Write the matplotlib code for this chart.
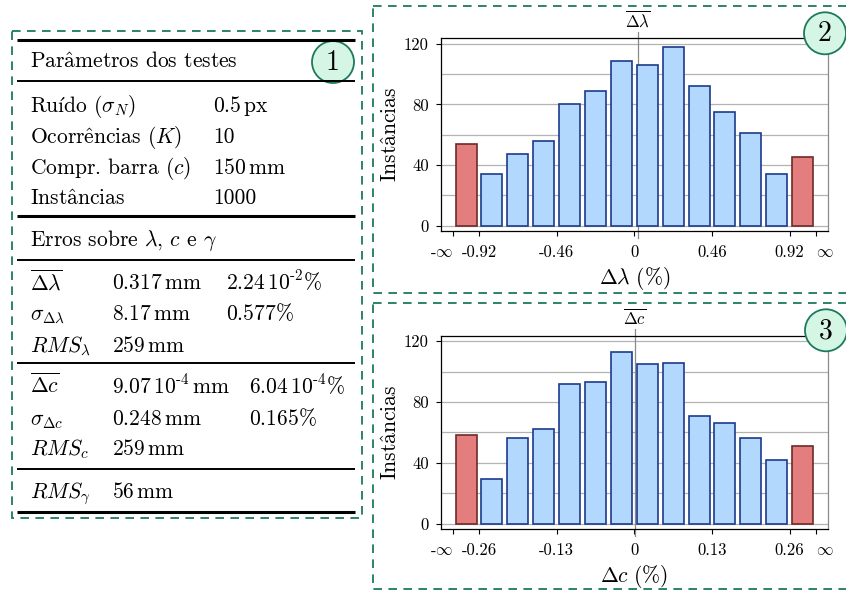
import numpy as np
import matplotlib
matplotlib.use('Agg')
import matplotlib.pyplot as plt
from matplotlib.patches import Rectangle, Circle

plt.rcParams['font.family'] = ['cmr10', 'DejaVu Serif']
plt.rcParams['mathtext.fontset'] = 'cm'
plt.rcParams['axes.unicode_minus'] = False
plt.rcParams['lines.scale_dashes'] = False

# histogram counts (1000 instancias), first/last bins are the -inf / +inf tails
counts_lambda = [54, 34, 47, 56, 80, 89, 109, 106, 118, 92, 75, 61, 34, 45]
counts_c = [58, 29, 56, 62, 92, 93, 113, 105, 106, 71, 66, 56, 42, 51]
ticks_lambda = [-0.92, -0.46, 0, 0.46, 0.92]
ticks_c = [-0.26, -0.13, 0, 0.13, 0.26]
mean_lambda = 2.24e-2
mean_c = 6.04e-4

# cmr10 (BaKoMa) has no latin-1 letters: build them TeX-style, accent glyph
# (^ = circumflex, \u00b6 = acute) kerned back over the letter,
# \u00b3 = dotless i.  hspace is in units of the italic 'm' (0.878 em).
A_HAT = 'a$\\hspace{-0.569}$^'
E_HAT = 'e$\\hspace{-0.538}$^$\\hspace{-0.032}$'
I_ACUTE = '\u00b3$\\hspace{-0.443}$\u00b6$\\hspace{-0.127}$'

# table contents
title_params = 'Par' + A_HAT + 'metros dos testes'
params_names = ['Ru' + I_ACUTE + 'do ($\\sigma_N$)', 'Ocorr' + E_HAT + 'ncias ($K$)',
                'Compr. barra ($c$)', 'Inst' + A_HAT + 'ncias']
params_values = [r'$0.5\,\mathrm{px}$', '10', r'$150\,\mathrm{mm}$', '1000']
title_errors = 'Erros sobre $\\lambda$, $c$ e $\\gamma$'
lam_names = [r'$\overline{\Delta\lambda}$', r'$\sigma_{\Delta\lambda}$', r'$RMS_\lambda$']
lam_mm = [r'$0.317\,\mathrm{mm}$', r'$8.17\,\mathrm{mm}$', r'$259\,\mathrm{mm}$']
lam_pct = [r'$2.24\,10^{\text{-}2}\%$', r'$0.577\%$', '']
c_names = [r'$\overline{\Delta c}$', r'$\sigma_{\Delta c}$', r'$RMS_c$']
c_mm = [r'$9.07\,10^{\text{-}4}\,\mathrm{mm}$', r'$0.248\,\mathrm{mm}$', r'$259\,\mathrm{mm}$']
c_pct = [r'$6.04\,10^{\text{-}4}\%$', r'$0.165\%$', '']
gamma_name = r'$RMS_\gamma$'
gamma_mm = r'$56\,\mathrm{mm}$'
ylabel = 'Inst' + A_HAT + 'ncias'

green = '#1c7a5c'
W, H = 846, 592
fig = plt.figure(figsize=(W / 100, H / 100), dpi=100)


def px_axes(left, top, right, bottom):
    return fig.add_axes([left / W, 1 - bottom / H, (right - left) / W, (bottom - top) / H])


def histogram(ax, counts, ticks, mean, xlabel, meanlabel):
    step = (ticks[-1] - ticks[0]) / 12  # twelve inner bins
    lefts = np.concatenate([[ticks[0] - step], ticks[0] + step * np.arange(13)])
    centers = lefts + step / 2
    fills = ['#b3d8fd'] * len(counts)
    edges = ['#1d3a8c'] * len(counts)
    fills[0] = fills[-1] = '#e47d7d'
    edges[0] = edges[-1] = '#6e2a2a'
    ax.bar(centers, counts, width=0.81 * step, color=fills, edgecolor=edges,
           linewidth=1.2, zorder=3)
    ax.axvline(mean, ymin=-0.036, ymax=1.034, color='#8a8a8a', lw=0.9,
               clip_on=False, zorder=2)
    ax.text(mean, 1.095, meanlabel, transform=ax.get_xaxis_transform(),
            ha='center', va='center', fontsize=12)
    ax.set_xlim(ticks[0] - 1.48 * step, ticks[-1] + 1.47 * step)
    ax.set_ylim(-3.6, 123.7)
    xt = [ticks[0] - step] + ticks + [ticks[-1] + step]
    ax.set_xticks(xt)
    ax.set_xticklabels(['-$\\infty$'] + ['%g' % t for t in ticks] + ['$\\infty$'])
    labs = ax.get_xticklabels()
    labs[0].set_ha('right')
    labs[-1].set_ha('left')
    ax.set_yticks([0, 40, 80, 120])
    ax.set_yticks([20, 60, 100], minor=True)
    ax.tick_params(which='major', direction='out', length=3.6, width=0.8,
                   labelsize=12, color='black')
    ax.tick_params(axis='x', pad=6)
    ax.tick_params(axis='y', pad=5)
    ax.tick_params(which='minor', length=0)
    ax.yaxis.grid(True, which='both', color='#b3b3b3', lw=0.9)
    ax.set_axisbelow(True)
    for s in ['left', 'bottom', 'top']:
        ax.spines[s].set_linewidth(0.9)
        ax.spines[s].set_color('black')
    ax.spines['right'].set_color('#8a8a8a')
    ax.spines['right'].set_linewidth(0.9)
    ax.set_xlabel(xlabel, fontsize=15.5, labelpad=4)


ax2 = px_axes(440.7, 38.3, 827.7, 231)
histogram(ax2, counts_lambda, ticks_lambda, mean_lambda,
          r'$\Delta\lambda\ (\%)$', r'$\overline{\Delta\lambda}$')
ax3 = px_axes(440.7, 335.7, 827.7, 529)
histogram(ax3, counts_c, ticks_c, mean_c,
          r'$\Delta c\ (\%)$', r'$\overline{\Delta c}$')

# overlay in pixel units: table, dashed frames, numbered circles
ov = fig.add_axes([0, 0, 1, 1], zorder=10)
ov.set_xlim(0, W)
ov.set_ylim(H, 0)
ov.axis('off')
ov.patch.set_alpha(0)

dash = (0, (6.2, 4.6))
for x0, y0, x1, y1 in [(11.7, 31, 361.7, 518), (373.3, 6, 900, 293), (373.3, 303, 900, 589)]:
    ov.add_patch(Rectangle((x0, y0), x1 - x0, y1 - y0, fill=False, ec=green,
                           lw=1.3, linestyle=dash))

# table rules
for y, lw in [(40, 2.2), (80.7, 1.4), (216, 2.2), (259.5, 1.4), (363.3, 1.4),
              (469, 1.4), (512, 2.2)]:
    ov.plot([16.7, 355], [y, y], color='black', lw=lw, solid_capstyle='butt')

fs = 15.5
ov.text(30, 67.3, title_params, fontsize=fs, va='baseline')
for name, val, y in zip(params_names, params_values, [111.5, 143, 173.5, 204.3]):
    ov.text(30, y, name, fontsize=fs, va='baseline')
    ov.text(213.3, y, val, fontsize=fs, va='baseline')
ov.text(30, 245.7, title_errors, fontsize=fs, va='baseline')
for name, mm, pct, y in zip(lam_names, lam_mm, lam_pct, [289.3, 320, 351.7]):
    ov.text(30, y, name, fontsize=fs, va='baseline')
    ov.text(111.5, y, mm, fontsize=fs, va='baseline')
    ov.text(226, y, pct, fontsize=fs, va='baseline')
for name, mm, pct, y in zip(c_names, c_mm, c_pct, [393.3, 425, 455]):
    ov.text(30, y, name, fontsize=fs, va='baseline')
    ov.text(111.5, y, mm, fontsize=fs, va='baseline')
    ov.text(249.3, y, pct, fontsize=fs, va='baseline')
ov.text(30, 498.3, gamma_name, fontsize=fs, va='baseline')
ov.text(111.5, 498.3, gamma_mm, fontsize=fs, va='baseline')

# y labels of both histograms, centred on their axes
for ax in [ax2, ax3]:
    bb = ax.get_position()
    ov.text(396, H * (1 - (bb.y0 + bb.y1) / 2), ylabel, fontsize=fs, rotation=90,
            rotation_mode='anchor', ha='center', va='baseline')

for num, (cx, cy) in zip(['1', '2', '3'], [(333, 62), (825, 33.3), (826, 330.3)]):
    ov.add_patch(Circle((cx, cy), 21, fc='#d5f5e5', ec=green, lw=1.3))
    ov.text(cx, cy + 1, num, fontsize=20, ha='center', va='center')

fig.savefig('out.png', dpi=100)
